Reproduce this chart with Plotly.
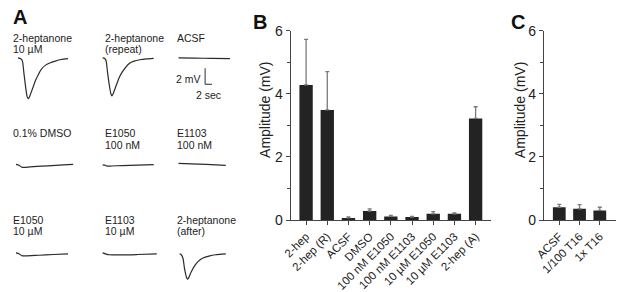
import plotly.graph_objects as go

W, H = 617, 292
FONT = "Liberation Sans, Arial, sans-serif"
INK = "#222222"

# ---------------- Panel B data ----------------
b_cats = ["2-hep", "2-hep (R)", "ACSF", "DMSO", "100 nM E1050", "100 nM E1103",
          "10 µM E1050", "10 µM E1103", "2-hep (A)"]
b_mean = [4.28, 3.49, 0.07, 0.29, 0.12, 0.10, 0.20, 0.20, 3.22]
b_sem = [1.44, 1.21, 0.03, 0.07, 0.03, 0.02, 0.07, 0.03, 0.37]

# ---------------- Panel C data ----------------
c_cats = ["ACSF", "1/100 T16", "1x T16"]
c_mean = [0.41, 0.36, 0.31]
c_sem = [0.09, 0.13, 0.10]

amp_ticks = [0, 2, 4, 6]
amp_minor = [1, 3, 5]

# ---------------- Panel A traces (time in s, potential in mV) ----------------
t_hep = [0.6, 1.4, 1.9, 2.3, 2.9, 3.3, 3.6, 4.0, 4.6, 5.1, 5.7, 6.6, 7.4, 8.6, 10.0, 11.4, 13.1, 15.1]
v_hep = [0, -0.1, -0.4, -1.8, -3.9, -4.9, -5.1, -4.8, -4.1, -3.5, -2.8, -2.0, -1.4, -0.9, -0.6, -0.4, -0.2, -0.1]

t_rep = [0.3, 0.9, 1.3, 1.7, 2.3, 2.7, 3.0, 3.4, 4.0, 4.6, 5.1, 6.0, 6.9, 8.0, 9.4, 11.1, 13.1, 15.1]
v_rep = [0, -0.06, -0.35, -1.75, -3.6, -4.5, -4.75, -4.4, -3.7, -3.0, -2.45, -1.75, -1.2, -0.7, -0.4, -0.23, -0.12, -0.06]

t_acsf = [0.3, 5.0, 10.0, 15.2]
v_acsf = [0, -0.03, -0.06, -0.1]

t_dmso = [0, 0.9, 1.7, 2.6, 5.1, 9.4, 13.7, 16.6]
v_dmso = [0, -0.12, -0.35, -0.38, -0.29, -0.18, -0.06, 0]

t_e1050_100 = [0.3, 1.1, 1.7, 2.9, 6.0, 10.3, 15.1]
v_e1050_100 = [-0.06, -0.12, -0.23, -0.21, -0.15, -0.09, -0.04]

t_e1103_100 = [0.3, 4.0, 8.3, 14.0]
v_e1103_100 = [0.12, 0.06, 0, -0.12]

t_e1050_10 = [0, 0.9, 1.7, 2.9, 6.6, 10.9, 15.1]
v_e1050_10 = [0.12, 0, -0.24, -0.26, -0.18, -0.09, 0]

t_e1103_10 = [0.3, 1.1, 2.3, 6.0, 10.3, 16.0]
v_e1103_10 = [0.12, 0, -0.12, -0.14, -0.09, 0]

t_after = [0.6, 1.1, 1.6, 2.0, 2.6, 2.9, 3.3, 4.0, 4.9, 6.0, 7.4, 9.1, 11.1, 14.0]
v_after = [0, -0.12, -0.59, -1.76, -2.94, -3.18, -2.94, -2.24, -1.53, -0.94, -0.53, -0.29, -0.12, 0]

scale_mv = 2   # mV
scale_sec = 2  # s

labels_a = [
    ["2-heptanone", "10 µM"], ["2-heptanone", "(repeat)"], ["ACSF"],
    ["0.1% DMSO"], ["E1050", "100 nM"], ["E1103", "100 nM"],
    ["E1050", "10 µM"], ["E1103", "10 µM"], ["2-heptanone", "(after)"],
]
traces_a = [
    (t_hep, v_hep), (t_rep, v_rep), (t_acsf, v_acsf),
    (t_dmso, v_dmso), (t_e1050_100, v_e1050_100), (t_e1103_100, v_e1103_100),
    (t_e1050_10, v_e1050_10), (t_e1103_10, v_e1103_10), (t_after, v_after),
]

# ---------------- layout helpers (pixel -> paper) ----------------
def px_x(p):
    return p / W

def px_y(p):
    return 1 - p / H

PX_PER_S = 3.5
PX_PER_MV = 8.5
col_left = [7, 94, 171]
row_base = [53, 166, 261]
row_range = [(-5.5, 0.8), (-1.0, 0.8), (-3.5, 0.8)]
label_y = [(32, 43.5), (133, 145), (225, 237)]
label_x = [2, 95, 168]
T_SPAN = 17.0

fig = go.Figure()
layout = dict(
    width=W, height=H, margin=dict(l=0, r=0, t=0, b=0),
    paper_bgcolor="white", plot_bgcolor="white", showlegend=False,
    font=dict(family=FONT, color=INK),
)
annotations = []

# ---------------- Panel B ----------------
b_x0, b_x1 = 286, 489
y_top, y_bot = 24, 225.3
fig.add_trace(go.Bar(
    x=b_cats, y=b_mean, width=0.63, marker=dict(color="#232323", line=dict(width=0)),
    error_y=dict(type="data", symmetric=False, array=b_sem, arrayminus=[0] * len(b_sem),
                 color="#7a7a7a", thickness=1.3, width=2),
    xaxis="x", yaxis="y"))
axis_common_y = dict(
    range=[0, 6], tickvals=amp_ticks, ticks="outside", ticklen=4, tickwidth=1.2,
    tickcolor="#444", showline=True, linecolor="#444", linewidth=1.4,
    showgrid=False, zeroline=False, tickfont=dict(size=14, color=INK, family=FONT),
    minor=dict(tickvals=amp_minor, ticks="outside", ticklen=3, tickcolor="#444", tickwidth=1.2),
    fixedrange=True,
)
axis_common_x = dict(
    type="category", ticks="outside", ticklen=4, tickwidth=1.2, tickcolor="#444",
    showline=True, linecolor="#444", linewidth=1.4, showgrid=False, zeroline=False,
    tickangle=-45, tickfont=dict(size=11.5, color=INK, family=FONT), fixedrange=True,
)
layout["xaxis"] = dict(axis_common_x, domain=[px_x(b_x0), px_x(b_x1)], range=[-0.72, 8.72], anchor="y")
layout["yaxis"] = dict(axis_common_y, domain=[px_y(y_bot), px_y(y_top)], anchor="x")

# ---------------- Panel C ----------------
c_x0, c_x1 = 543, 616
fig.add_trace(go.Bar(
    x=c_cats, y=c_mean, width=0.63, marker=dict(color="#232323", line=dict(width=0)),
    error_y=dict(type="data", symmetric=False, array=c_sem, arrayminus=[0] * len(c_sem),
                 color="#7a7a7a", thickness=1.3, width=2),
    xaxis="x2", yaxis="y2"))
layout["xaxis2"] = dict(axis_common_x, domain=[px_x(c_x0), px_x(c_x1)], range=[-0.75, 2.8], anchor="y2")
layout["yaxis2"] = dict(axis_common_y, domain=[px_y(y_bot), px_y(y_top)], anchor="x2")

for xc in (259, 518):
    annotations.append(dict(text="Amplitude (mV)", x=px_x(xc), y=px_y(108), xref="paper", yref="paper",
                            textangle=-90, showarrow=False, font=dict(size=14, color=INK, family=FONT),
                            xanchor="center", yanchor="middle"))

# ---------------- Panel A ----------------
for i, ((t, v), lab) in enumerate(zip(traces_a, labels_a)):
    r, c = divmod(i, 3)
    n = i + 3
    xa, ya = f"x{n}", f"y{n}"
    lo, hi = row_range[r]
    top_px = row_base[r] - hi * PX_PER_MV
    bot_px = row_base[r] - lo * PX_PER_MV
    left_px = col_left[c]
    right_px = left_px + T_SPAN * PX_PER_S
    layout[f"xaxis{n}"] = dict(domain=[px_x(left_px), px_x(right_px)], range=[0, T_SPAN],
                               visible=False, anchor=ya, fixedrange=True)
    layout[f"yaxis{n}"] = dict(domain=[px_y(bot_px), px_y(top_px)], range=[lo, hi],
                               visible=False, anchor=xa, fixedrange=True)
    fig.add_trace(go.Scatter(x=t, y=v, mode="lines", line=dict(color="#2a2a2a", width=1.2, shape="spline", smoothing=0.6),
                             xaxis=xa, yaxis=ya, hoverinfo="skip"))
    for k, line in enumerate(lab):
        annotations.append(dict(text=line, x=px_x(label_x[c]), y=px_y(label_y[r][k]), xref="paper", yref="paper",
                                showarrow=False, xanchor="left", yanchor="middle",
                                font=dict(size=10.5, color=INK, family=FONT)))
    if i == 2:
        t0, v0 = 8.0, -1.29
        fig.add_trace(go.Scatter(x=[t0, t0, t0 + scale_sec], y=[v0, v0 - scale_mv, v0 - scale_mv],
                                 mode="lines", line=dict(color="#2a2a2a", width=1),
                                 xaxis=xa, yaxis=ya, hoverinfo="skip"))
        annotations.append(dict(text=f"{scale_mv} mV", x=t0 - 0.7, y=v0 - scale_mv / 2 - 0.3, xref=xa, yref=ya,
                                showarrow=False, xanchor="right", yanchor="middle",
                                font=dict(size=10.5, color=INK, family=FONT)))
        annotations.append(dict(text=f"{scale_sec} sec", x=t0 + 1.1, y=v0 - scale_mv - 1.3, xref=xa, yref=ya,
                                showarrow=False, xanchor="center", yanchor="middle",
                                font=dict(size=10.5, color=INK, family=FONT)))

# ---------------- panel letters ----------------
for letter, xp, yp in (("A", 2, 10), ("B", 246, 15), ("C", 507, 15)):
    annotations.append(dict(text=f"<b>{letter}</b>", x=px_x(xp), y=px_y(yp), xref="paper", yref="paper",
                            showarrow=False, xanchor="left", yanchor="middle",
                            font=dict(size=20, color="#111", family=FONT)))

layout["annotations"] = annotations
fig.update_layout(**layout)
fig.write_html("out.html", config={"displayModeBar": False},
               post_script="document.body.style.margin='0';document.body.style.overflow='hidden';")
